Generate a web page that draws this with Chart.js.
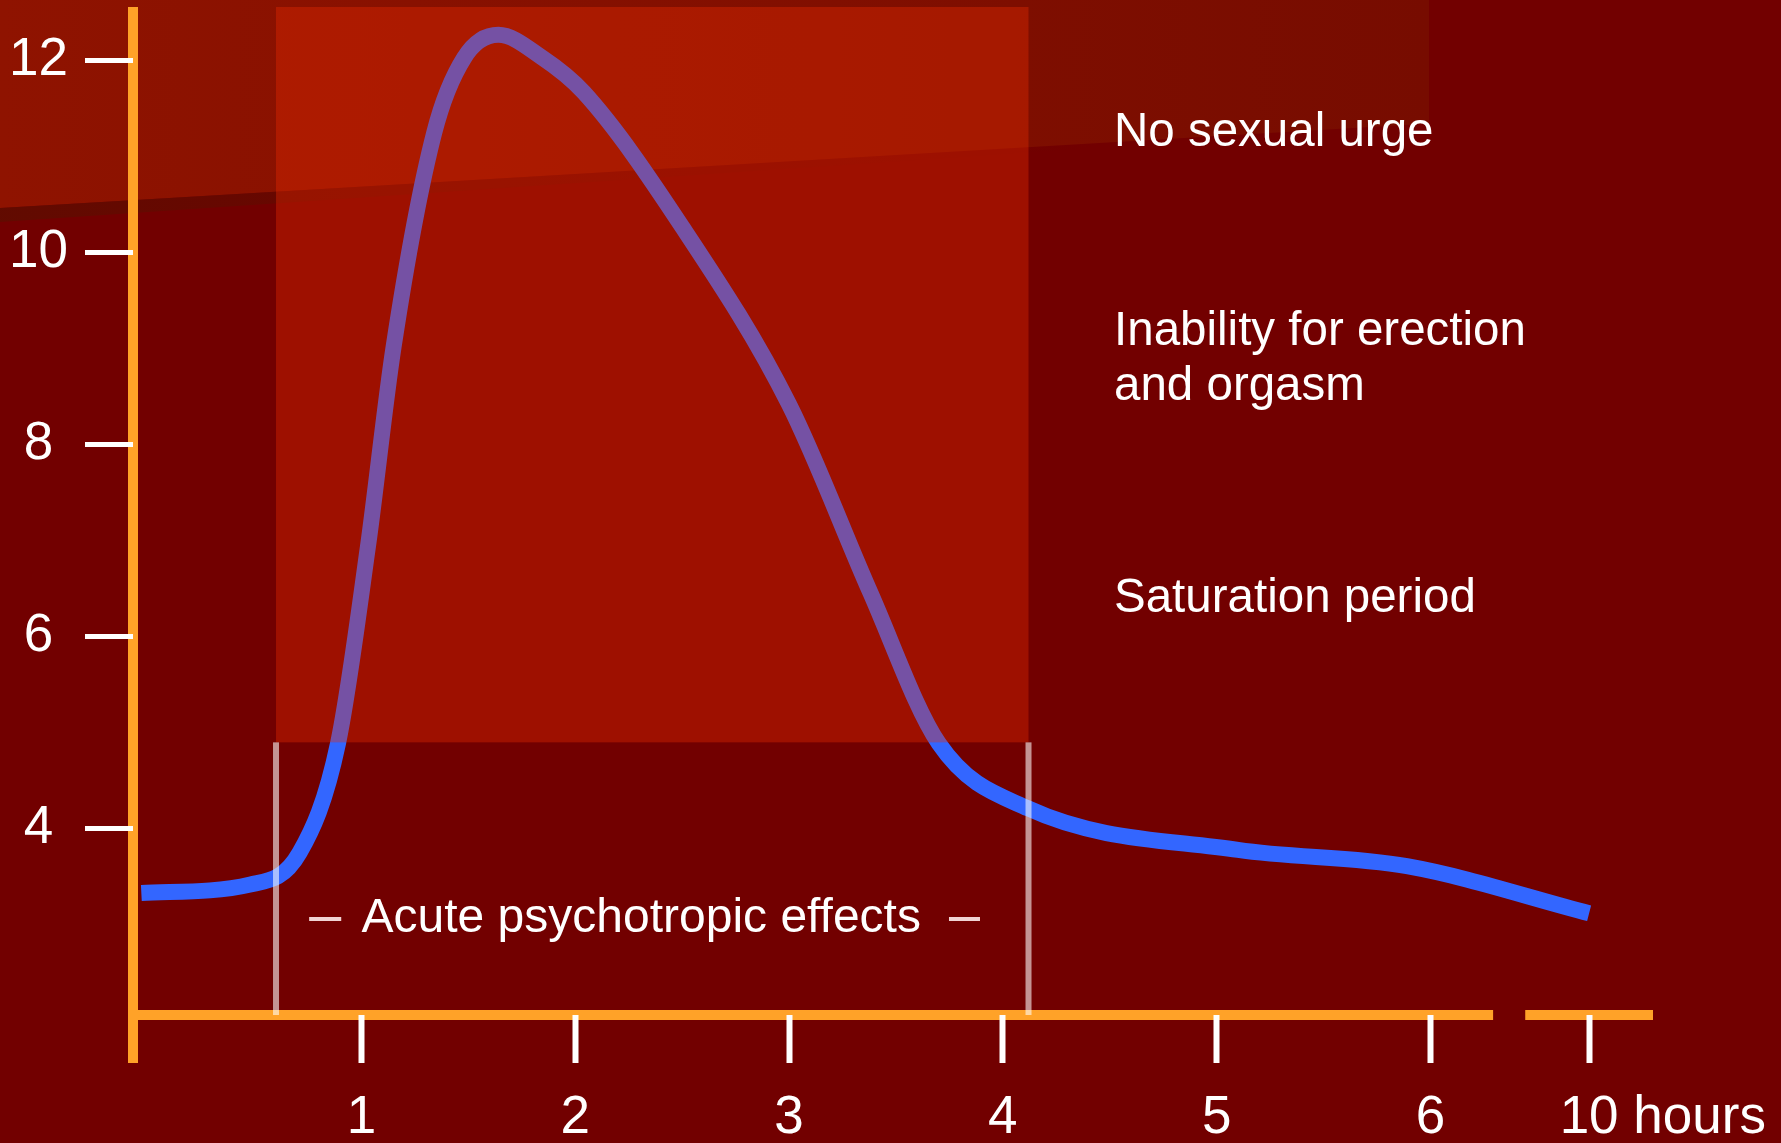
<!DOCTYPE html>
<html>
<head>
<meta charset="utf-8">
<title>Acute psychotropic effects over time</title>
<script src="https://cdn.jsdelivr.net/npm/chart.js@4/dist/chart.umd.min.js"></script>
<style>
  html, body { margin: 0; padding: 0; background: #720000; }
  #wrap { width: 1781px; height: 1143px; }
  canvas { display: block; }
</style>
</head>
<body>
<div id="wrap"><canvas id="chart" width="1781" height="1143"></canvas></div>
<script>
// ---- data ---------------------------------------------------------------
// hours after intake (axis is broken between 6 h and 10 h)
const hours = [-0.03, 0.48, 0.71, 0.89, 1.03, 1.15, 1.34, 1.48, 1.64, 1.84,
               2.04, 2.5, 3.0, 3.38, 3.7, 4.12, 5.1, 5.89, 10];
// effect level
const level = [3.33, 3.42, 3.75, 4.89, 6.94, 9.02, 11.25, 12.03, 12.27, 12.04,
               11.67, 10.27, 8.42, 6.46, 4.89, 4.21, 3.78, 3.61, 3.12];

const xTicks = [1, 2, 3, 4, 5, 6, 10];
const yTicks = [4, 6, 8, 10, 12];

const acuteWindow = [0.6, 4.12];   // hours covered by the acute phase
const saturationLevel = 4.9;       // lower edge of the saturation band
const axisGap = [7.58, 8.39];      // hours where the time axis is interrupted

const notes = [
  { text: 'No sexual urge',         hour: 4.52, level: 11.11 },
  { text: 'Inability for erection', hour: 4.52, level: 9.04 },
  { text: 'and orgasm',             hour: 4.52, level: 8.47 },
  { text: 'Saturation period',      hour: 4.52, level: 6.26 }
];
const acuteNote = { text: 'Acute psychotropic effects', hour: 1.0, level: 2.92 };
const acuteDashes = [[0.755, 0.905], [3.748, 3.893]];
const acuteDashLevel = 3.06;

// ---- broken time scale ---------------------------------------------------
const BREAK_AT = 6;          // hours beyond this are compressed
const BREAK_RATIO = 0.1856;  // compression factor after the break
const squash = h => h <= BREAK_AT ? h : BREAK_AT + (h - BREAK_AT) * BREAK_RATIO;
const unsquash = s => s <= BREAK_AT ? s : BREAK_AT + (s - BREAK_AT) / BREAK_RATIO;

const BaseLinear = Chart.LinearScale || Chart.registry.getScale('linear');
class BrokenTimeScale extends BaseLinear {
  getPixelForValue(value) {
    const a = squash(this.min), b = squash(this.max);
    return this.getPixelForDecimal((squash(value) - a) / (b - a));
  }
  getValueForPixel(pixel) {
    const a = squash(this.min), b = squash(this.max);
    return unsquash(a + this.getDecimalForPixel(pixel) * (b - a));
  }
}
BrokenTimeScale.id = 'brokenTime';
BrokenTimeScale.defaults = BaseLinear.defaults;
Chart.register(BrokenTimeScale);

// ---- styling -------------------------------------------------------------
const FONT = '"Liberation Sans", Arial, Helvetica, sans-serif';
const BASE = '#720000';
const AXIS = '#FFA228';
const CURVE = '#3366FF';
const TICK_LEN = 48;
const TICK_FONT_SIZE = 53;
const X_LABEL_PAD = 24;

const backdrop = {
  id: 'backdrop',
  beforeDraw(chart) {
    const { ctx, width, height, chartArea: ca, scales: { x } } = chart;
    ctx.save();
    ctx.fillStyle = BASE;
    ctx.fillRect(0, 0, width, height);

    // lighter slanted band across the top
    const bandRight = 1429;
    const yL = 208, yR = 123.5;
    const g = ctx.createLinearGradient(0, 0, bandRight, 0);
    g.addColorStop(0, 'rgb(143,19,0)');
    g.addColorStop(1, 'rgb(119,12,0)');
    ctx.fillStyle = g;
    ctx.beginPath();
    ctx.moveTo(0, 0);
    ctx.lineTo(bandRight, 0);
    ctx.lineTo(bandRight, yR);
    ctx.lineTo(0, yL);
    ctx.closePath();
    ctx.fill();

    // soft shadow under the band edge
    const sg = ctx.createLinearGradient(0, 0, 1100, 0);
    sg.addColorStop(0, 'rgba(92,14,0,0.75)');
    sg.addColorStop(1, 'rgba(100,10,0,0)');
    ctx.fillStyle = sg;
    ctx.beginPath();
    ctx.moveTo(0, yL);
    ctx.lineTo(bandRight, yR);
    ctx.lineTo(bandRight, yR + 2);
    ctx.lineTo(0, yL + 14);
    ctx.closePath();
    ctx.fill();

    // axes
    ctx.fillStyle = AXIS;
    const ax = ca.left, ay = ca.bottom, half = 5;
    ctx.fillRect(ax - half, ca.top, 2 * half, ay + TICK_LEN - ca.top);
    const g0 = x.getPixelForValue(axisGap[0]);
    const g1 = x.getPixelForValue(axisGap[1]);
    ctx.fillRect(ax - half, ay - half, g0 - (ax - half), 2 * half);
    ctx.fillRect(g1, ay - half, ca.right - g1, 2 * half);
    ctx.restore();
  },
  afterDatasetsDraw(chart) {
    const { ctx, chartArea: ca, scales: { x, y } } = chart;
    ctx.save();
    const x0 = x.getPixelForValue(acuteWindow[0]);
    const x1 = x.getPixelForValue(acuteWindow[1]);
    const yb = y.getPixelForValue(saturationLevel);

    // translucent saturation block over the curve
    ctx.fillStyle = 'rgba(237,45,0,0.357)';
    ctx.fillRect(x0, ca.top, x1 - x0, yb - ca.top);

    // light markers framing the acute phase
    ctx.fillStyle = 'rgba(255,255,255,0.58)';
    [x0, x1].forEach(px => ctx.fillRect(px - 3, yb, 6, ca.bottom - yb));

    // acute phase caption with dashes
    ctx.fillStyle = '#ffffff';
    ctx.font = '48px ' + FONT;
    ctx.textBaseline = 'alphabetic';
    ctx.textAlign = 'left';
    ctx.fillText(acuteNote.text, x.getPixelForValue(acuteNote.hour), y.getPixelForValue(acuteNote.level));
    ctx.fillStyle = 'rgba(255,235,235,0.9)';
    const dy = y.getPixelForValue(acuteDashLevel);
    acuteDashes.forEach(([a, b]) => {
      const pa = x.getPixelForValue(a), pb = x.getPixelForValue(b);
      ctx.fillRect(pa, dy - 2, pb - pa, 4);
    });

    // effect descriptions
    ctx.fillStyle = '#ffffff';
    ctx.font = '47.5px ' + FONT;
    notes.forEach(n => ctx.fillText(n.text, x.getPixelForValue(n.hour), y.getPixelForValue(n.level)));

    // unit written after the last time tick
    ctx.font = TICK_FONT_SIZE + 'px ' + FONT;
    ctx.textBaseline = 'middle';
    const tenX = x.getPixelForValue(10);
    const labelY = x.top + TICK_LEN + X_LABEL_PAD + TICK_FONT_SIZE * 1.2 / 2;
    ctx.fillText('hours', tenX + ctx.measureText('10').width / 2 + ctx.measureText(' ').width, labelY);
    ctx.restore();
  }
};

new Chart(document.getElementById('chart'), {
  type: 'line',
  data: {
    datasets: [{
      data: hours.map((h, i) => ({ x: h, y: level[i] })),
      borderColor: CURVE,
      borderWidth: 16,
      borderJoinStyle: 'round',
      borderCapStyle: 'butt',
      cubicInterpolationMode: 'monotone',
      pointRadius: 0,
      fill: false
    }]
  },
  options: {
    responsive: false,
    animation: false,
    devicePixelRatio: 1,
    layout: { padding: { top: 7, right: 128, bottom: 0, left: 0 } },
    plugins: { legend: { display: false }, tooltip: { enabled: false } },
    scales: {
      x: {
        type: 'brokenTime',
        min: -0.069,
        max: 11.61,
        bounds: 'data',
        afterBuildTicks: s => { s.ticks = xTicks.map(v => ({ value: v })); },
        afterFit: s => { s.height = 128; s.paddingLeft = 0; s.paddingRight = 0; },
        border: { display: false },
        grid: { drawOnChartArea: false, drawTicks: true, tickLength: TICK_LEN, tickWidth: 6, tickColor: '#ffffff' },
        ticks: {
          autoSkip: false, maxRotation: 0, minRotation: 0,
          padding: X_LABEL_PAD, color: '#ffffff',
          font: { family: FONT, size: TICK_FONT_SIZE },
          callback: v => String(v)
        }
      },
      y: {
        type: 'linear',
        min: 2.06,
        max: 12.56,
        bounds: 'data',
        afterBuildTicks: s => { s.ticks = yTicks.map(v => ({ value: v })); },
        afterFit: s => { s.width = 133; s.paddingTop = 0; s.paddingBottom = 0; },
        border: { display: false },
        grid: { drawOnChartArea: false, drawTicks: true, tickLength: TICK_LEN, tickWidth: 5, tickColor: '#ffffff' },
        ticks: {
          padding: 17, crossAlign: 'center', labelOffset: 0,
          color: '#ffffff',
          font: { family: FONT, size: TICK_FONT_SIZE },
          callback: v => String(v)
        }
      }
    }
  },
  plugins: [backdrop]
});
</script>
</body>
</html>
